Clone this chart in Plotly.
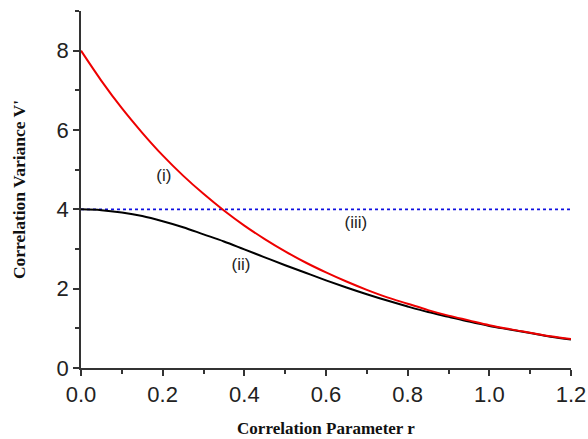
import plotly.graph_objects as go

r_values = [0.00, 0.05, 0.10, 0.15, 0.20, 0.25, 0.30, 0.35, 0.40, 0.45, 0.50, 0.55,
            0.60, 0.65, 0.70, 0.75, 0.80, 0.85, 0.90, 0.95, 1.00, 1.05, 1.10, 1.15, 1.20]
curve_i = [8.00, 7.24, 6.55, 5.93, 5.36, 4.85, 4.39, 3.97, 3.59, 3.25, 2.94, 2.66,
           2.41, 2.18, 1.97, 1.78, 1.62, 1.46, 1.32, 1.20, 1.08, 0.98, 0.89, 0.80, 0.73]
curve_ii = [4.00, 3.98, 3.92, 3.83, 3.70, 3.55, 3.37, 3.19, 2.99, 2.79, 2.59, 2.40,
            2.21, 2.03, 1.86, 1.70, 1.55, 1.41, 1.29, 1.17, 1.06, 0.97, 0.88, 0.79, 0.72]
line_iii_r = [0.0, 1.2]
line_iii = [4.0, 4.0]

labels = ["(i)", "(ii)", "(iii)"]
label_r = [0.203, 0.392, 0.673]
label_v = [4.81, 2.57, 3.63]

fig = go.Figure()
fig.add_trace(go.Scatter(x=line_iii_r, y=line_iii, mode="lines",
                         line=dict(color="#1010e0", width=1.6, dash="dot")))
fig.add_trace(go.Scatter(x=r_values, y=curve_ii, mode="lines", line_shape="spline",
                         line=dict(color="black", width=2)))
fig.add_trace(go.Scatter(x=r_values, y=curve_i, mode="lines", line_shape="spline",
                         line=dict(color="#ee0000", width=2)))
fig.add_trace(go.Scatter(x=label_r, y=label_v, mode="text", text=labels,
                         textfont=dict(family="Liberation Sans, Arial", size=17, color="#222")))

axis_common = dict(showline=True, linecolor="#333", linewidth=1.5, showgrid=False,
                   zeroline=False, ticks="outside", ticklen=6, tickwidth=1.5, tickcolor="#333",
                   automargin=False,
                   tickfont=dict(family="Liberation Sans, Arial", size=22, color="#222"),
                   minor=dict(ticks="outside", ticklen=4, tickwidth=1.5, tickcolor="#333"))

fig.update_xaxes(range=[0, 1.2], tickvals=[0, 0.2, 0.4, 0.6, 0.8, 1.0, 1.2],
                 ticktext=["0.0", "0.2", "0.4", "0.6", "0.8", "1.0", "1.2"],
                 minor_dtick=0.1,
                 title=dict(text="<b>Correlation Parameter r</b>", standoff=16,
                            font=dict(family="Liberation Serif, Times New Roman", size=17, color="#111")),
                 **axis_common)
fig.update_yaxes(range=[0, 9], tickvals=[0, 2, 4, 6, 8], minor_dtick=1,
                 title=dict(text="<b>Correlation Variance V'</b>", standoff=26,
                            font=dict(family="Liberation Serif, Times New Roman", size=17.5, color="#111")),
                 **axis_common)

fig.update_layout(width=588, height=439, showlegend=False,
                  margin=dict(l=81, r=17, t=11, b=71),
                  plot_bgcolor="white", paper_bgcolor="white")

fig.write_html("out.html", config={"displayModeBar": False},
               post_script="document.body.style.margin='0';document.body.style.overflow='hidden';")
